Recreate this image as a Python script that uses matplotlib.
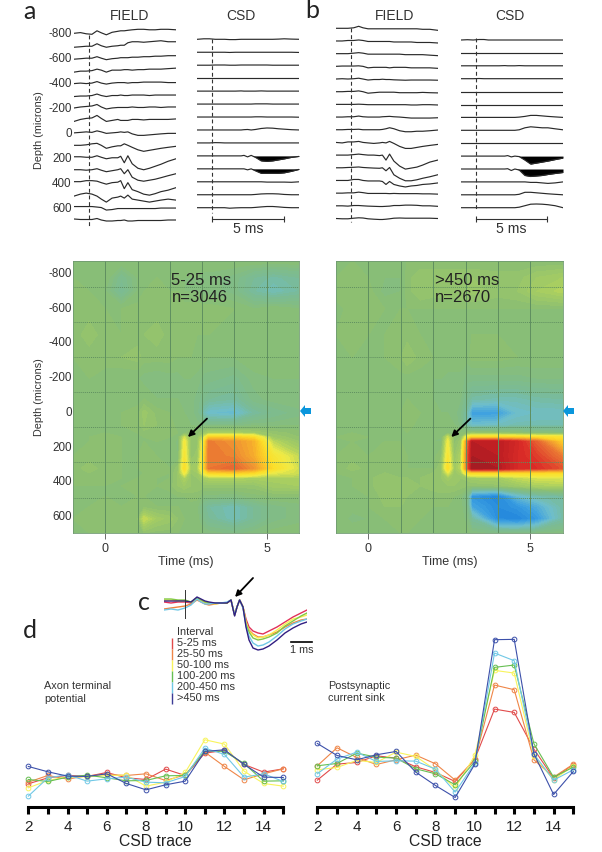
import numpy as np
import matplotlib
matplotlib.use("Agg")
import matplotlib.pyplot as plt
from matplotlib.colors import LinearSegmentedColormap

plt.rcParams['font.family'] = ['Liberation Sans', 'DejaVu Sans']

# time grids (ms)
t_trace = [-1.05, -.6, -.2, .2, .55, .85, 1.2, 1.6, 2, 2.2, 2.45, 2.7, 3, 3.4, 3.8, 4.2, 4.6, 5, 5.5, 6.05]
t_heat = [-1, -.5, 0, .5, 1, 1.2, 1.6, 2, 2.25, 2.45, 2.65, 2.85, 3.05, 3.2, 4, 4.6, 5.2, 6]
t_avg = [-1.05, -.7, -.35, 0, .3, .6, .8, 1, 1.2, 1.5, 1.8, 2.1, 2.3, 2.48, 2.6, 2.73, 2.9, 3.05, 3.2, 3.4, 3.65, 3.9, 4.2, 4.6, 5, 5.4, 5.8, 6.1]

depth_ticks = [-800, -600, -400, -200, 0, 200, 400, 600]
field_depths = list(range(-800, 800, 100))
csd_rows = list(range(2, 16))
heat_depths = [-875, -780, -700, -600, -450, -320, -200, -80, 0, 70, 115, 140, 165, 250, 320, 345, 375, 420, 480, 540, 610, 692]
heat_grid_depths = [-727, -525, -324, -118, 84, 285, 492]

field_a = [
    [0, .7, -.5, -1, 2.5, .5, -1.5, 1, 2, 2.5, 2.5, 3, 3.5, 4, 4, 3.5, 3.5, 4, 4, 3.5],
    [-1.5, -1, -.5, -.5, 2, 0, -1.5, -.5, 0, .5, .5, 3, 4, 4, 3.5, 4, 4.5, 5, 4, 4],
    [-1, -.5, 0, 0, 1.5, 0, -1.5, -.5, 0, .5, .5, .5, 1, 1, 1.5, 1.5, 2, 2, 2.5, 2.5],
    [-1.5, -.5, -.5, 0, 1.5, .5, -1.5, .5, .5, .5, 1, 1, .5, 1, 1, 1.5, 1.5, 1.5, 2, 2.5],
    [-.5, 0, -.5, 0, 1.5, 0, -1, 0, .5, .5, .5, 0, .5, .5, 1, 1, 1, 1, .5, .5],
    [-1, -.5, -.5, 0, 1.5, 0, -1, 0, 0, .5, 0, 0, .5, .5, .5, 0, .5, .5, .5, .5],
    [0, 1, 1.5, 2, 3.5, 1, -1, 0, .5, .5, .5, .5, 1, .5, .5, 1, 1, .5, 1, 1],
    [-1, 1, 2, 2.5, 5, 2, -1, 0, 1, 0, 0, 0, 1, 1, .5, 1, 1, 1, 1, 1.5],
    [0, .5, 1, .5, 2, 1, -.5, 0, .5, 1, .5, 1, -1, -2.5, -2.5, -2, -1.5, -1, -.5, -.5],
    [0, 0, .5, 1.5, 2, 0, -3, -1.5, -.5, -.5, 1.5, 0, -2, -4.5, -6, -5, -4, -3, -2, -1],
    [1, 1, .5, .5, 2, .5, -1, 0, 0, 1.5, -5, 2, -6, -10.5, -12, -10.5, -8.5, -6.5, -3.5, -1],
    [.5, .5, 0, .5, 1.5, 0, -1.5, -.5, .5, 1.5, -3.5, .5, -7, -10, -11, -10, -9, -7.5, -5.5, -3.5],
    [1, 1, 2, 2, 1.5, 0, -1.5, 0, .5, 2, -6, 0, -7, -9, -11.5, -12.5, -11, -9, -7.5, -5],
    [-1, 1, 2, 1, -1, -4, -7, -3, -2, -1, -3, 0, -4, -5, -6, -7, -6, -5, -4, -5],
    [1, 1, 1, 1, .5, 0, -2.5, -2, -1, -1, -1, -1, -1, -1, -1, -1, -1, -.5, -.5, -.5],
    [1, .5, .5, .5, 1.5, 0, -1, -1, -.5, -.5, 0, -1, -1, -.5, -.5, -.5, -.5, -.5, 0, 0],
]

csd_a = [
    [0, .5, .5, 0, 0, 0, -.3, -.3, 0, 0, 0, 0, 0, 0, 0, 0, .2, .5, .2, 0],
    [0, 0, 0, 0, 0, 0, -.2, 0, 0, 0, 0, 0, 0, 0, 0, 0, 0, 0, 0, -.2],
    [0, 0, 0, .2, .2, .2, 0, 0, .2, .2, .2, .2, .2, .2, .2, 0, 0, 0, 0, 0],
    [0, 0, 0, 0, 0, 0, 0, 0, 0, 0, 0, 0, 0, 0, 0, 0, 0, 0, 0, 0],
    [0, 0, 0, 0, 0, 0, 0, 0, .2, 0, 0, 0, 0, .2, 0, 0, 0, 0, 0, 0],
    [0, 0, 0, 0, 0, 0, 0, 0, 0, 0, 0, 0, .2, .2, .2, 0, 0, 0, 0, 0],
    [0, 0, 0, 0, 0, 0, 0, 0, 0, 0, 0, 0, .2, .2, 0, 0, 0, 0, 0, -.2],
    [0, 0, 0, 0, 0, 0, 0, 0, 0, .3, .5, 0, .5, 1.5, 2, 1.8, 1.2, .8, .3, 0],
    [0, 0, 0, .3, .2, 0, 0, 0, 0, 0, 0, 0, 0, 0, 0, 0, 0, 0, 0, 0],
    [0, 0, 0, 0, 0, 0, 0, 0, 0, .5, -1, .5, -1.5, -5, -5.5, -5, -4, -3, -1.5, -.5],
    [0, 0, 0, 0, 0, 0, 0, 0, 0, 0, -1, 0, -2, -4.5, -4.5, -4.5, -4.5, -4, -2.5, -.5],
    [0, 0, 0, 0, 0, 0, 0, 0, 0, 0, 0, 0, 0, 0, -.3, -.3, -.3, -.3, -.5, 0],
    [0, 0, 0, 0, 0, 0, 0, 0, 0, 0, 0, 0, .3, .8, 1, 1, .8, .3, 0, 0],
    [0, 0, 0, 0, 0, 0, -.5, -.2, 0, 0, 0, 0, .3, .8, 1.2, 1.2, .8, .3, 0, 0],
]

field_b = [
    [0, 0, 0, .5, 2, .5, -.5, -.5, -.5, -.5, -.5, -.5, -.5, -.5, -.5, -.5, -.5, -1, -1, -2],
    [0, 0, .5, .5, 1, .5, -.5, -.5, -.5, -.5, -.5, -.5, -1, -1, -1, -1, -1.5, -1.5, -1.5, -2],
    [0, 0, 0, .5, 1, .5, -.5, -.5, -.5, -.5, -.5, -.5, -.5, -.5, -1, -1, -1, -1, -1.5, -2],
    [0, .3, .3, .3, .5, 0, -1.5, -1, -1, -1, -1, -1.5, -1, -1, -1, -1.5, -1.5, -1.5, -1.5, -2],
    [0, .3, 0, .3, .8, 0, -1, -.5, -.5, -.2, -.5, -.5, -.8, -1, -1.2, -1, -1, -1, -1, -1.2],
    [0, 0, .3, .3, .8, 0, -1.5, -1, -.5, -.5, -.5, -.5, -.5, -1, -1, -1, -1, -.7, -1, -1.2],
    [0, 0, 0, 0, .2, 0, -.3, -.3, -.3, -.3, -.3, -.3, -.3, -.3, -.3, -.6, -.6, -.3, -.3, -.6],
    [0, 0, .3, .3, 1, .3, 0, 0, 0, .3, .5, .7, .3, 0, -.5, -1, -1, -1, -1, -.7],
    [0, 0, .3, .3, .5, 0, 0, 0, 0, .3, 1, 2, 1, -1, -2, -2, -1.5, -1.5, -1, -.3],
    [0, -.5, .5, .5, 1, 0, -.5, -1, -.5, 0, -.5, 1, -1, -4, -6, -6, -5, -4, -3, -2],
    [0, 0, 0, .5, 1, .5, 0, 0, -.5, 0, -5, 1, -6, -11, -14, -13, -12, -10, -7, -5],
    [0, 0, .3, .5, .8, .3, 0, -.3, -.5, 0, -3, .3, -7, -10.5, -13, -13, -12, -10.5, -9, -7],
    [0, 0, 0, 1, 1, 0, -.5, -.5, -.5, -1, -4, -1, -4, -5.5, -6.5, -5.5, -5, -4, -3.5, -2.5],
    [0, 0, .3, .3, 1, .5, -.3, -.3, -.3, -.3, -.3, -.5, -.3, -.5, -.5, -.5, -.5, -.7, -.7, -1],
    [0, 0, -.3, .3, .3, 0, -.3, -.5, -.7, -.7, -.5, -.3, .3, .3, .7, .7, .5, 0, 0, -.5],
    [0, -.3, -.3, .3, .7, .5, -.3, -.7, -1, -1, -.7, -.3, .3, .5, .3, .3, .3, .3, .3, 0],
]

csd_b = [
    [0, .3, 0, .5, .5, 0, 0, 0, 0, 0, 0, 0, 0, 0, 0, 0, 0, 0, 0, 0],
    [0, 0, 0, 0, 0, 0, 0, 0, 0, 0, 0, 0, 0, 0, 0, 0, 0, 0, 0, 0],
    [0, 0, 0, 0, 0, 0, 0, 0, .2, 0, 0, 0, .2, 0, 0, 0, 0, 0, 0, 0],
    [0, 0, 0, .2, 0, 0, 0, 0, 0, 0, 0, 0, 0, 0, 0, 0, 0, 0, 0, 0],
    [0, 0, 0, 0, 0, 0, 0, 0, 0, 0, 0, 0, 0, 0, 0, 0, 0, 0, 0, 0],
    [0, 0, 0, 0, 0, 0, 0, 0, 0, 0, 0, 0, 0, 0, 0, 0, 0, 0, 0, 0],
    [0, 0, 0, 0, 0, 0, 0, 0, 0, 0, 0, 0, .3, 1, 2, 2, 1.5, 1, .5, 0],
    [0, 0, 0, 0, 0, 0, 0, 0, 0, 0, 0, 0, .5, 2.5, 3.5, 3, 2.5, 2.5, 1.5, .5],
    [0, 0, 0, 0, 0, 0, 0, 0, 0, 0, 0, 0, 0, 0, 0, 0, 0, 0, 0, 0],
    [0, 0, 0, 0, 0, 0, 0, 0, 0, .5, -.8, 0, -.5, -4, -8, -7, -6, -5, -3.5, -2],
    [0, 0, 0, 0, 0, 0, 0, 0, 0, .3, -1.5, 0, -1, -6.5, -7.5, -7, -6.5, -5.5, -4.5, -3.5],
    [0, 0, 0, 0, 0, 0, 0, 0, 0, 0, 0, 0, 0, 0, -.5, -.5, -1, -1.5, -1, 0],
    [0, 0, 0, 0, 0, 0, 0, 0, 0, 0, 0, 0, .5, 2.5, 2.5, 2, 1.5, 1, .5, 0],
    [0, 0, 0, 0, 0, 0, 0, 0, 0, 0, 0, 0, .5, 2, 3.5, 3.7, 3.5, 3, 2, 0],
]

heat_a = [
    [0, 0, 0, 0, 0, 0, 0, 0, 0, 0, 0, 0, 0, 0, 0, 0, 0, 0],
    [0, 0, 0, -.8, -.2, 0, 0, 0, 0, -.2, -.2, -.2, -.3, -.3, -.5, -1, -1.3, -1],
    [.2, 0, -.2, -1, -.2, 0, .1, 0, 0, -.2, -.2, -.2, -.3, -.3, -.5, -1.2, -1.6, -1.2],
    [.1, .1, 0, 0, .1, .1, .1, .1, .1, .1, .1, .1, .1, .1, 0, -.2, 0, -.2],
    [.1, .3, .1, 0, .1, .2, .3, .1, .1, .1, .1, 0, 0, 0, 0, 0, 0, 0],
    [0, .1, .1, .2, .3, .1, .1, .1, 0, 0, 0, 0, -.1, -.2, -.2, 0, 0, 0],
    [0, 0, -.1, -.2, -.2, -.3, -.4, -.3, -.3, -.2, -.2, -.3, -.5, -.5, -.7, -.3, -.2, -.2],
    [0, 0, 0, -.1, -.1, 0, -.2, -.2, -.2, -.3, -.3, -.5, -.8, -1, -1.2, -.5, -.3, -.2],
    [0, 0, 0, 0, .1, .5, .1, 0, -.1, -.2, -.3, -.6, -1.6, -2, -2.2, -1.2, -.8, -.5],
    [0, 0, 0, 0, .1, .4, .2, .1, -.1, -.1, -.2, -.3, -.4, -.5, -.5, -.3, -.3, -.2],
    [0, 0, 0, 0, 0, .1, .1, .1, 0, 0, .1, .1, .4, .8, .8, .6, .3, .1],
    [0, 0, .1, 0, 0, 0, .1, 0, -.2, 1.5, .3, .2, 1.6, 3.5, 3.5, 3, .6, .2],
    [0, 0, .2, 0, 0, 0, 0, 0, -.3, 2.2, .3, .3, 2.5, 5.5, 5, 4.3, 1.2, .4],
    [0, .1, .1, 0, 0, .1, 0, 0, -.2, 2.5, .3, .5, 3, 5.6, 5.3, 4.4, 2.5, 1.3],
    [.1, .3, .1, 0, 0, .1, .1, 0, .3, 3, .6, .8, 3.2, 5.6, 6, 5, 3, 1.5],
    [.1, .2, .1, 0, 0, 0, .1, 0, .4, 2.2, .4, .6, 2.2, 3.3, 3.6, 3.2, 1.9, 1.5],
    [.1, .1, .1, 0, 0, .1, 0, 0, .4, 1, .3, .4, .8, 1, 1.1, .9, .9, 1],
    [0, 0, 0, 0, .1, .1, 0, .1, .4, .6, .4, .3, .3, .3, .3, .3, .7, .8],
    [0, 0, 0, -.1, 0, 0, -.1, -.1, 0, 0, .1, .1, -.3, -.3, -.4, -.1, 0, 0],
    [0, 0, .1, 0, .1, .1, 0, 0, 0, -.1, -.1, -.2, -.9, -1.2, -1.6, -1, -.5, -.3],
    [0, .1, .1, .1, .2, 1.4, .7, .5, .2, 0, 0, -.1, -.7, -1, -1.6, -1, -.5, -.3],
    [0, 0, 0, 0, .1, .2, .1, .1, 0, 0, 0, 0, -.2, -.3, -.5, -.3, -.1, 0],
]

heat_b = [
    [0, 0, 0, 0, 0, 0, 0, 0, 0, 0, 0, 0, 0, 0, 0, 0, 0, 0],
    [0, .2, 0, -.2, -.2, .1, .4, .4, .4, .4, .4, .4, .4, .4, .3, .3, .6, .8],
    [.1, .1, .1, -.3, -.2, .1, .4, .3, .3, .3, .3, .4, .4, .5, .3, .4, .8, 1.1],
    [-.1, .1, .1, 0, 0, 0, 0, 0, 0, 0, 0, 0, 0, 0, 0, 0, 0, 0],
    [0, .1, 0, 0, .1, .1, 0, 0, 0, 0, 0, 0, 0, 0, 0, 0, 0, 0],
    [0, 0, 0, 0, .2, .4, .1, 0, 0, 0, 0, 0, -.1, .1, .1, 0, 0, 0],
    [0, 0, 0, -.1, -.1, -.1, -.1, -.2, -.2, -.3, -.3, -.3, -.5, -.5, -.5, -.5, -.4, -.4],
    [0, 0, 0, -.1, -.1, 0, 0, -.2, -.2, -.2, -.3, -.4, -1, -1.3, -1.5, -1.5, -1.3, -1.2],
    [0, 0, 0, -.1, 0, .1, 0, -.1, -.2, -.2, -.3, -.6, -1.5, -3, -3, -2, -1.8, -1.8],
    [0, 0, -.1, 0, 0, .1, -.1, -.1, -.1, -.1, -.2, -.5, -1.5, -2, -1.8, -1.5, -1.5, -1.5],
    [0, 0, 0, 0, 0, 0, 0, -.1, -.1, -.1, -.1, 0, .2, .3, .2, 0, -.2, -.3],
    [0, .1, 0, 0, 0, 0, -.1, -.1, -.2, 1.5, .1, .2, 2.5, 3.3, 3.3, 3.2, 3, 2.8],
    [0, 0, 0, 0, 0, -.1, -.2, -.2, -.2, 2, .1, .5, 5.5, 8, 8, 7.3, 6, 3.5],
    [0, .1, 0, .1, .1, 0, -.1, -.1, .2, 2.5, .4, 1, 6, 8.2, 8, 7.2, 6.7, 5.5],
    [0, .3, .1, .2, .1, 0, 0, 0, .4, 3, .6, 1.2, 6, 8.3, 8.2, 7.2, 7, 6.3],
    [0, .1, .1, .2, .1, .1, .1, .2, .4, 1.8, .4, .8, 3, 3.3, 3.3, 3.2, 3.2, 3.1],
    [0, 0, .1, .4, .2, .2, .2, .3, .4, .7, .5, .4, .5, .7, .8, 1.3, 1.6, 1.7],
    [0, 0, .1, .4, .3, .3, .2, .3, .4, .4, .4, .3, .2, .2, .3, .6, .9, 1],
    [0, 0, 0, .3, .3, .2, .1, .1, .1, .1, 0, -.1, -.8, -3.3, -3.8, -2.2, -1.5, -1.2],
    [0, -.1, 0, .2, .2, .1, .1, 0, 0, 0, 0, -.1, -.6, -2.8, -3.6, -3.3, -2.6, -1.3],
    [0, -.3, -.2, 0, .1, .1, 0, 0, 0, 0, 0, -.1, -.3, -1.2, -3.6, -3.8, -3.2, -1.3],
    [0, 0, 0, 0, 0, 0, 0, 0, 0, 0, 0, 0, -.1, -.3, -.5, -.5, -.4, -.3],
]

# panel c, averaged traces by interval
interval_names = ["5-25 ms", "25-50 ms", "50-100 ms", "100-200 ms", "200-450 ms", ">450 ms"]
avg_red = [0, -1, 0, 0, -1, 4, 2, 0, -1, -1, -1, -1, 2, -13, -5, 2, -5, -17, -25, -29, -31, -32, -29, -25, -20, -15, -11, -8]
avg_orange = [-7, -6, -5, -4, -2, 2, 0, -2, -3, -2, -1, -1, 2, -13, -5, 2, -5, -20, -28, -32, -35, -35, -33, -30, -25, -21, -18, -17]
avg_yellow = [2, 2, 1, 1, 0, 4, 2, 0, -1, -2, -1, -1, 2, -13, -5, 2, -5, -20, -29, -33, -36, -35, -33, -28, -22, -17, -15, -13]
avg_green = [3, 3, 2, 2, 0, 4, 2, 0, -1, -1, -1, -1, 2, -13, -5, 2, -5, -22, -30, -36, -38, -37, -35, -31, -24, -19, -14, -11]
avg_ltblue = [-8, -7, -8, -6, -3, 3, 0, -2, -2, -1, -1, 0, 2, -13, -5, 2, -6, -24, -34, -41, -44, -43, -40, -34, -27, -22, -19, -17]
avg_navy = [1, 1, 1, 1, 0, 5, 3, 1, 0, -1, -1, -1, 2, -14, -5, 2, -5, -25, -38, -46, -48, -47, -44, -38, -31, -26, -22, -20]

# panel d
axon_red = [68, 86, 93, 90, 102, 86, 81, 112, 93, 160, 168, 126, 103, 113]
axon_orange = [73, 93, 82, 92, 96, 93, 98, 78, 95, 163, 120, 80, 98, 113]
axon_yellow = [56, 78, 89, 89, 93, 94, 61, 73, 102, 200, 187, 106, 69, 61]
axon_green = [81, 75, 88, 94, 86, 77, 78, 92, 93, 167, 165, 129, 76, 77]
axon_ltblue = [31, 86, 95, 76, 83, 88, 73, 71, 90, 175, 156, 88, 98, 75]
axon_blue = [120, 104, 91, 90, 98, 69, 50, 65, 76, 165, 170, 126, 88, 87]

sink_red = [79, 127, 132, 152, 145, 119, 102, 75, 142, 292, 282, 172, 85, 125]
sink_orange = [122, 176, 147, 126, 140, 154, 128, 79, 140, 364, 350, 140, 88, 127]
sink_yellow = [110, 117, 138, 132, 163, 150, 110, 55, 153, 408, 400, 150, 80, 122]
sink_green = [122, 129, 160, 148, 145, 113, 98, 65, 135, 417, 424, 188, 88, 118]
sink_ltblue = [98, 142, 163, 135, 137, 136, 112, 43, 130, 460, 437, 157, 79, 110]
sink_blue = [189, 153, 140, 155, 165, 103, 63, 27, 127, 500, 501, 158, 36, 105]

d_colors = ['#e14b4b', '#ef8648', '#f8f45c', '#66bf52', '#70c8e6', '#3c50aa']
avg_colors = ['#e1325a', '#f0823c', '#faf050', '#82c846', '#70c8e6', '#321e82']
text_color = '#333333'

W, H = 602, 852
fig = plt.figure(figsize=(W / 100, H / 100), dpi=100)


def px_axes(left, top, right, bottom):
    ax = fig.add_axes([left / W, 1 - bottom / H, (right - left) / W, (bottom - top) / H])
    ax.patch.set_alpha(0)
    return ax


def draw_traces(left, first_y, last_y, rows, traces, dash_top, dash_bottom, fill_rows=()):
    top, bottom = 15, 240
    ax = px_axes(left, top, left + 102, bottom)
    n = len(rows)
    step = (last_y - first_y) / (n - 1)
    ax.set_xlim(-1.05, 6.05)
    ax.set_ylim(n - 1 + (bottom - last_y) / step, -(first_y - top) / step)
    ax.axis('off')
    for i, vals in enumerate(traces):
        y = i - np.array(vals) / step
        ax.plot(t_trace, y, color='#2a2a2a', lw=0.85)
        if i in fill_rows:
            ax.fill_between(t_trace, y, i, where=np.array(t_trace) >= 3, interpolate=True, color='black', lw=0)
    dash_y = [(dash_top - first_y) / step, (dash_bottom - first_y) / step]
    ax.plot([0, 0], dash_y, color='#333333', lw=0.8, ls=(0, (3.5, 2.5)))


draw_traces(74, 33.3, 220, field_depths, field_a, 35, 227)
draw_traces(197.3, 39.3, 207.7, csd_rows, csd_a, 39, 213, fill_rows=(9, 10))
draw_traces(335.7, 28.3, 218.5, field_depths, field_b, 28, 222)
draw_traces(461, 40, 207.7, csd_rows, csd_b, 38, 209, fill_rows=(9, 10))

cmap = LinearSegmentedColormap.from_list("csd", [
    (30 / 255, 130 / 255, 220 / 255), (60 / 255, 160 / 255, 225 / 255), (110 / 255, 190 / 255, 205 / 255),
    (122 / 255, 187 / 255, 150 / 255), (138 / 255, 190 / 255, 115 / 255), (172 / 255, 208 / 255, 95 / 255),
    (240 / 255, 235 / 255, 70 / 255), (252 / 255, 222 / 255, 40 / 255), (250 / 255, 190 / 255, 40 / 255),
    (240 / 255, 150 / 255, 50 / 255), (230 / 255, 100 / 255, 50 / 255), (220 / 255, 45 / 255, 40 / 255),
    (190 / 255, 30 / 255, 35 / 255), (120 / 255, 25 / 255, 35 / 255)])


def draw_heat(left, right, data, label):
    ax = px_axes(left, 261, right, 533)
    ax.contourf(t_heat, heat_depths, np.array(data), levels=np.linspace(-4, 9, 66), cmap=cmap, extend='both', antialiased=False)
    ax.set_xlim(-1, 6)
    ax.set_ylim(692, -875)
    ax.set_xticks([0, 5])
    ax.set_yticks([])
    ax.tick_params(axis='x', length=4, width=0.6, color='#555555', labelsize=9, labelcolor=text_color, pad=3)
    for s in ax.spines.values():
        s.set_color('#6f9a70')
        s.set_linewidth(0.6)
    for t in [0, 1, 2, 3, 4, 5]:
        ax.axvline(t, color='#5f8f60', lw=0.7)
    for d in heat_grid_depths:
        ax.axhline(d, color='#5f8f60', lw=0.7, ls=(0, (1, 1)))
    ax.text(2.05, -713, label, fontsize=12, color='#222222', va='center', linespacing=1.2)
    ax.annotate('', xy=(2.56, 139), xytext=(3.15, 33), arrowprops=dict(arrowstyle='-|>', color='black', lw=1.3, mutation_scale=9, shrinkA=0, shrinkB=0))
    ax.set_xlabel("Time (ms)", fontsize=9, color=text_color, labelpad=1)
    return ax


heat_left = draw_heat(73, 299, heat_a, "5-25 ms\nn=3046")
heat_right = draw_heat(336, 562.7, heat_b, ">450 ms\nn=2670")

# panel c
ax_c = px_axes(164, 585, 307, 655)
ax_c.set_xlim(-1.05, 6.1)
ax_c.set_ylim(-53, 17)
ax_c.axis('off')
for vals, col in zip([avg_red, avg_orange, avg_yellow, avg_green, avg_ltblue, avg_navy], avg_colors):
    ax_c.plot(t_avg, vals, color=col, lw=1.0)
ax_c.plot([0, 0], [12, -16], color='#333333', lw=0.7)

# panel d
for box, series in [((28.3, 283.3), [axon_red, axon_orange, axon_yellow, axon_green, axon_ltblue, axon_blue]),
                    ((317.3, 573.3), [sink_red, sink_orange, sink_yellow, sink_green, sink_ltblue, sink_blue])]:
    ax = px_axes(box[0], 620, box[1], 806.5)
    for vals, col in zip(series, d_colors):
        ax.plot(csd_rows, vals, color=col, lw=0.8, marker='o', ms=3.4, mfc='none', mew=0.7, clip_on=False)
    ax.set_xlim(2, 15)
    ax.set_ylim(0, 559)
    for s in ['top', 'left', 'right']:
        ax.spines[s].set_visible(False)
    ax.spines['bottom'].set_linewidth(2.2)
    ax.spines['bottom'].set_capstyle('projecting')
    ax.set_yticks([])
    ax.set_xticks(csd_rows)
    ax.set_xticklabels([str(n) if n % 2 == 0 else '' for n in csd_rows], fontsize=11, color='#222222')
    ax.tick_params(axis='x', length=5, width=2.2, color='black', pad=5)
    ax.set_xlabel("CSD trace", fontsize=11.3, color='#222222', labelpad=0)

# text and annotations in pixel space
ov = fig.add_axes([0, 0, 1, 1], zorder=10)
ov.set_xlim(0, W)
ov.set_ylim(H, 0)
ov.axis('off')
ov.patch.set_alpha(0)

for s, x, y in [('a', 29, 19), ('b', 312, 18.5), ('c', 144, 610), ('d', 30, 638)]:
    ov.text(x, y, s, fontsize=18, family='Lato', color='#222222', ha='center', va='baseline')
for s, x, y in [('FIELD', 130, 16.5), ('CSD', 241, 16.5), ('FIELD', 394.5, 16.5), ('CSD', 510, 16.5)]:
    ov.text(x, y, s, fontsize=10, color=text_color, ha='center', va='center')

for d, y in zip(depth_ticks, np.linspace(34, 208.5, 8)):
    ov.text(71.5, y, str(d), fontsize=8.4, color=text_color, ha='right', va='center')
for d, y in zip(depth_ticks, np.linspace(274, 517, 8)):
    ov.text(72, y, str(d), fontsize=8.4, color=text_color, ha='right', va='center')
ov.text(39, 130, "Depth (microns)", fontsize=7.8, color=text_color, rotation=90, ha='center', va='center')
ov.text(39, 397, "Depth (microns)", fontsize=7.8, color=text_color, rotation=90, ha='center', va='center')

for x0, x1 in [(212.3, 284), (476, 547.3)]:
    ov.plot([x0, x1], [219, 219], color='#333333', lw=0.8, marker='|', ms=5, mew=0.8)
    ov.text((x0 + x1) / 2, 229, "5 ms", fontsize=10.2, color=text_color, ha='center', va='center')

for x in [300.5, 563.5]:
    ov.arrow(x + 10.5, 411, -6, 0, width=6, head_width=12, head_length=5, length_includes_head=False, color='#0a96dc', lw=0)

ov.annotate('', xy=(235, 597), xytext=(253, 578), arrowprops=dict(arrowstyle='-|>', color='black', lw=1.3, mutation_scale=9, shrinkA=0, shrinkB=0))
ov.plot([291, 312], [641.7, 641.7], color='black', lw=1.2)
ov.text(302, 650, "1 ms", fontsize=7.8, color=text_color, ha='center', va='center')

ov.text(177, 632, "Interval", fontsize=7.9, color=text_color, va='center')
legend_ys = np.linspace(643, 698, 6)
for name, y, col in zip(interval_names, legend_ys, d_colors[:5] + ['#3c3c96']):
    ov.plot([172.3, 172.3], [y - 5.5, y + 5.5], color=col, lw=1.0, solid_capstyle='butt')
    ov.text(177, y, name, fontsize=7.9, color=text_color, va='center')

ov.text(44, 686, "Axon terminal", fontsize=7.8, color=text_color, va='center')
ov.text(44, 698.5, "potential", fontsize=7.8, color=text_color, va='center')
ov.text(328, 685.7, "Postsynaptic", fontsize=7.8, color=text_color, va='center')
ov.text(328, 698, "current sink", fontsize=7.8, color=text_color, va='center')

fig.savefig("out.png", dpi=100)
